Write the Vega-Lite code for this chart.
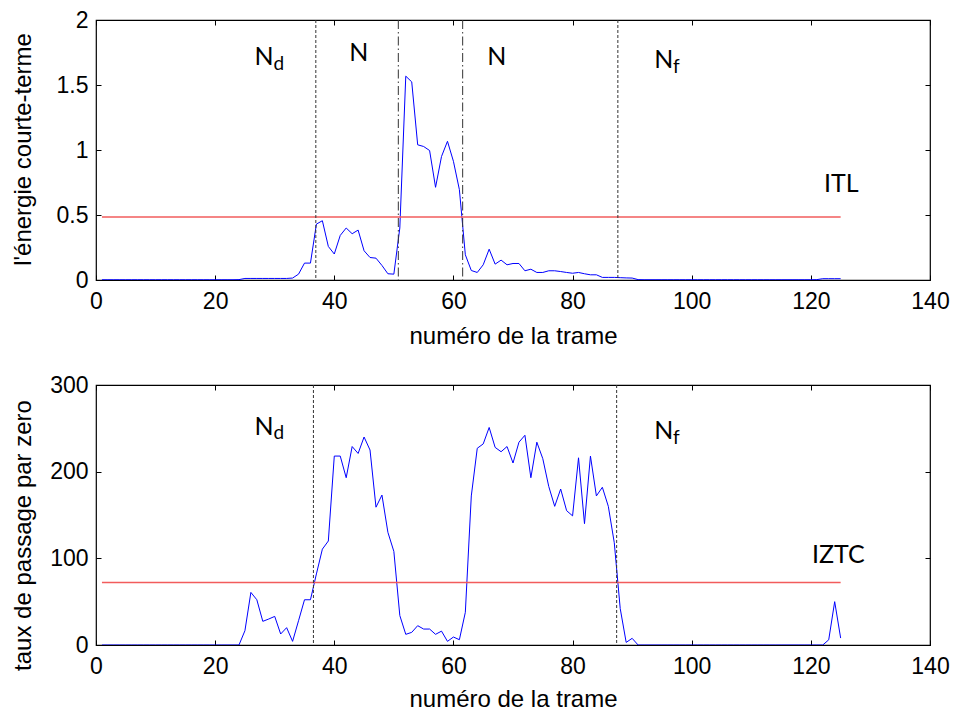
{
  "$schema": "https://vega.github.io/schema/vega-lite/v6.json",
  "padding": {"left": 10, "top": 8, "right": 5, "bottom": 0},
  "spacing": 24,
  "datasets": {
    "energy": [
      {"frame":1,"value":0.002},{"frame":2,"value":0.002},{"frame":3,"value":0.002},{"frame":4,"value":0.002},{"frame":5,"value":0.002},
      {"frame":6,"value":0.002},{"frame":7,"value":0.002},{"frame":8,"value":0.002},{"frame":9,"value":0.002},{"frame":10,"value":0.002},
      {"frame":11,"value":0.002},{"frame":12,"value":0.002},{"frame":13,"value":0.002},{"frame":14,"value":0.002},{"frame":15,"value":0.002},
      {"frame":16,"value":0.002},{"frame":17,"value":0.002},{"frame":18,"value":0.002},{"frame":19,"value":0.002},{"frame":20,"value":0.002},
      {"frame":21,"value":0.002},{"frame":22,"value":0.002},{"frame":23,"value":0.002},{"frame":24,"value":0.003},{"frame":25,"value":0.012},
      {"frame":26,"value":0.012},{"frame":27,"value":0.012},{"frame":28,"value":0.012},{"frame":29,"value":0.012},{"frame":30,"value":0.012},
      {"frame":31,"value":0.012},{"frame":32,"value":0.012},{"frame":33,"value":0.015},{"frame":34,"value":0.045},{"frame":35,"value":0.13},
      {"frame":36,"value":0.13},{"frame":37,"value":0.43},{"frame":38,"value":0.456},{"frame":39,"value":0.258},{"frame":40,"value":0.2},
      {"frame":41,"value":0.343},{"frame":42,"value":0.4},{"frame":43,"value":0.356},{"frame":44,"value":0.384},{"frame":45,"value":0.225},
      {"frame":46,"value":0.173},{"frame":47,"value":0.168},{"frame":48,"value":0.112},{"frame":49,"value":0.048},{"frame":50,"value":0.045},
      {"frame":51,"value":0.4},{"frame":52,"value":1.568},{"frame":53,"value":1.524},{"frame":54,"value":1.04},{"frame":55,"value":1.027},
      {"frame":56,"value":0.996},{"frame":57,"value":0.713},{"frame":58,"value":0.95},{"frame":59,"value":1.067},{"frame":60,"value":0.913},
      {"frame":61,"value":0.695},{"frame":62,"value":0.194},{"frame":63,"value":0.073},{"frame":64,"value":0.058},{"frame":65,"value":0.117},
      {"frame":66,"value":0.237},{"frame":67,"value":0.122},{"frame":68,"value":0.153},{"frame":69,"value":0.117},{"frame":70,"value":0.127},
      {"frame":71,"value":0.127},{"frame":72,"value":0.071},{"frame":73,"value":0.083},{"frame":74,"value":0.058},{"frame":75,"value":0.058},
      {"frame":76,"value":0.071},{"frame":77,"value":0.071},{"frame":78,"value":0.065},{"frame":79,"value":0.058},{"frame":80,"value":0.052},
      {"frame":81,"value":0.058},{"frame":82,"value":0.048},{"frame":83,"value":0.04},{"frame":84,"value":0.04},{"frame":85,"value":0.02},
      {"frame":86,"value":0.02},{"frame":87,"value":0.02},{"frame":88,"value":0.018},{"frame":89,"value":0.016},{"frame":90,"value":0.015},
      {"frame":91,"value":0.003},{"frame":92,"value":0.002},{"frame":93,"value":0.002},{"frame":94,"value":0.002},{"frame":95,"value":0.002},
      {"frame":96,"value":0.002},{"frame":97,"value":0.002},{"frame":98,"value":0.002},{"frame":99,"value":0.002},{"frame":100,"value":0.002},
      {"frame":101,"value":0.002},{"frame":102,"value":0.002},{"frame":103,"value":0.002},{"frame":104,"value":0.002},{"frame":105,"value":0.002},
      {"frame":106,"value":0.002},{"frame":107,"value":0.002},{"frame":108,"value":0.002},{"frame":109,"value":0.002},{"frame":110,"value":0.002},
      {"frame":111,"value":0.002},{"frame":112,"value":0.002},{"frame":113,"value":0.002},{"frame":114,"value":0.002},{"frame":115,"value":0.002},
      {"frame":116,"value":0.002},{"frame":117,"value":0.002},{"frame":118,"value":0.002},{"frame":119,"value":0.002},{"frame":120,"value":0.002},
      {"frame":121,"value":0.003},{"frame":122,"value":0.01},{"frame":123,"value":0.01},{"frame":124,"value":0.01},{"frame":125,"value":0.01}
    ],
    "zcr": [
      {"frame":1,"value":0},{"frame":2,"value":0},{"frame":3,"value":0},{"frame":4,"value":0},{"frame":5,"value":0},
      {"frame":6,"value":0},{"frame":7,"value":0},{"frame":8,"value":0},{"frame":9,"value":0},{"frame":10,"value":0},
      {"frame":11,"value":0},{"frame":12,"value":0},{"frame":13,"value":0},{"frame":14,"value":0},{"frame":15,"value":0},
      {"frame":16,"value":0},{"frame":17,"value":0},{"frame":18,"value":0},{"frame":19,"value":0},{"frame":20,"value":0},
      {"frame":21,"value":0},{"frame":22,"value":0},{"frame":23,"value":0},{"frame":24,"value":0},{"frame":25,"value":16.5},
      {"frame":26,"value":60.7},{"frame":27,"value":52.2},{"frame":28,"value":27.3},{"frame":29,"value":30},{"frame":30,"value":33},
      {"frame":31,"value":12.7},{"frame":32,"value":20},{"frame":33,"value":4.2},{"frame":34,"value":28},{"frame":35,"value":52.2},
      {"frame":36,"value":52.2},{"frame":37,"value":82},{"frame":38,"value":110.6},{"frame":39,"value":120},{"frame":40,"value":218},
      {"frame":41,"value":218},{"frame":42,"value":193},{"frame":43,"value":229},{"frame":44,"value":221},{"frame":45,"value":240},
      {"frame":46,"value":225},{"frame":47,"value":159},{"frame":48,"value":173},{"frame":49,"value":130},{"frame":50,"value":108},
      {"frame":51,"value":34},{"frame":52,"value":12.3},{"frame":53,"value":14.6},{"frame":54,"value":22.3},{"frame":55,"value":18.4},
      {"frame":56,"value":18.4},{"frame":57,"value":12.3},{"frame":58,"value":16},{"frame":59,"value":4.2},{"frame":60,"value":9.2},
      {"frame":61,"value":6.1},{"frame":62,"value":37.7},{"frame":63,"value":172},{"frame":64,"value":227},{"frame":65,"value":232},
      {"frame":66,"value":251},{"frame":67,"value":228},{"frame":68,"value":223},{"frame":69,"value":229},{"frame":70,"value":210},
      {"frame":71,"value":234},{"frame":72,"value":242},{"frame":73,"value":193},{"frame":74,"value":234},{"frame":75,"value":215},
      {"frame":76,"value":183},{"frame":77,"value":160},{"frame":78,"value":180},{"frame":79,"value":155},{"frame":80,"value":149},
      {"frame":81,"value":216},{"frame":82,"value":140},{"frame":83,"value":218},{"frame":84,"value":172},{"frame":85,"value":182},
      {"frame":86,"value":160},{"frame":87,"value":118},{"frame":88,"value":42},{"frame":89,"value":3},{"frame":90,"value":7.7},
      {"frame":91,"value":0},{"frame":92,"value":0},{"frame":93,"value":0},{"frame":94,"value":0},{"frame":95,"value":0},
      {"frame":96,"value":0},{"frame":97,"value":0},{"frame":98,"value":0},{"frame":99,"value":0},{"frame":100,"value":0},
      {"frame":101,"value":0},{"frame":102,"value":0},{"frame":103,"value":0},{"frame":104,"value":0},{"frame":105,"value":0},
      {"frame":106,"value":0},{"frame":107,"value":0},{"frame":108,"value":0},{"frame":109,"value":0},{"frame":110,"value":0},
      {"frame":111,"value":0},{"frame":112,"value":0},{"frame":113,"value":0},{"frame":114,"value":0},{"frame":115,"value":0},
      {"frame":116,"value":0},{"frame":117,"value":0},{"frame":118,"value":0},{"frame":119,"value":0},{"frame":120,"value":0},
      {"frame":121,"value":0},{"frame":122,"value":0},{"frame":123,"value":6},{"frame":124,"value":50},{"frame":125,"value":8}
    ]
  },
  "vconcat": [
    {
      "width": 834,
      "height": 260,
      "resolve": {"axis": {"x": "independent", "y": "independent"}},
      "layer": [
        {
          "data": {"name": "energy"},
          "mark": {"type": "line", "color": "#0000ff", "strokeWidth": 1, "clip": true},
          "encoding": {
            "x": {"field": "frame", "type": "quantitative", "scale": {"domain": [0, 140], "nice": false}, "title": "numéro de la trame",
                  "axis": {"values": [0,20,40,60,80,100,120,140], "labelPadding": 15, "titleY": 56, "titleBaseline": "middle"}},
            "y": {"field": "value", "type": "quantitative", "scale": {"domain": [0, 2], "nice": false}, "title": "l'énergie courte-terme",
                  "axis": {"values": [0,0.5,1,1.5,2], "labelPadding": 13, "titleX": -73, "titleY": 129, "titleAlign": "center", "titleBaseline": "middle", "titleAngle": -90}}
          }
        },
        {
          "data": {"values": [{"frame": 1, "frame2": 125, "value": 0.484}]},
          "mark": {"type": "rule", "color": "#f25c5c", "strokeWidth": 1.5},
          "encoding": {
            "x": {"field": "frame", "type": "quantitative", "axis": null},
            "x2": {"field": "frame2"},
            "y": {"field": "value", "type": "quantitative", "axis": {"orient": "right", "labels": false, "title": null, "values": [0,0.5,1,1.5,2]}}
          }
        },
        {
          "data": {"values": [{"frame": 36.9}, {"frame": 87.6}]},
          "mark": {"type": "rule", "color": "#333333", "strokeWidth": 1, "strokeDash": [3, 2]},
          "encoding": {
            "x": {"field": "frame", "type": "quantitative", "axis": {"orient": "top", "labels": false, "title": null, "values": [0,20,40,60,80,100,120,140]}}
          }
        },
        {
          "data": {"values": [{"frame": 50.75}, {"frame": 61.55}]},
          "mark": {"type": "rule", "color": "#333333", "strokeWidth": 1, "strokeDash": [9, 3, 1.5, 3]},
          "encoding": {
            "x": {"field": "frame", "type": "quantitative", "axis": null}
          }
        },
        {
          "data": {"values": [
            {"frame": 28.2, "value": 1.715, "label": "N"},
            {"frame": 44.1, "value": 1.746, "label": "N"},
            {"frame": 67.3, "value": 1.713, "label": "N"},
            {"frame": 95.3, "value": 1.69, "label": "N"},
            {"frame": 125.1, "value": 0.737, "label": "ITL"}
          ]},
          "mark": {"type": "text", "font": "Lato", "fontSize": 25, "align": "center", "baseline": "middle", "color": "black"},
          "encoding": {
            "x": {"field": "frame", "type": "quantitative", "axis": null},
            "y": {"field": "value", "type": "quantitative", "axis": null},
            "text": {"field": "label"}
          }
        },
        {
          "data": {"values": [
            {"frame": 30.7, "value": 1.665, "label": "d"},
            {"frame": 97.4, "value": 1.64, "label": "f"}
          ]},
          "mark": {"type": "text", "font": "Lato", "fontSize": 19, "align": "center", "baseline": "middle", "color": "black"},
          "encoding": {
            "x": {"field": "frame", "type": "quantitative", "axis": null},
            "y": {"field": "value", "type": "quantitative", "axis": null},
            "text": {"field": "label"}
          }
        }
      ]
    },
    {
      "width": 834,
      "height": 260,
      "resolve": {"axis": {"x": "independent", "y": "independent"}},
      "layer": [
        {
          "data": {"name": "zcr"},
          "mark": {"type": "line", "color": "#0000ff", "strokeWidth": 1, "clip": true},
          "encoding": {
            "x": {"field": "frame", "type": "quantitative", "scale": {"domain": [0, 140], "nice": false}, "title": "numéro de la trame",
                  "axis": {"values": [0,20,40,60,80,100,120,140], "labelPadding": 15, "titleY": 54, "titleBaseline": "middle"}},
            "y": {"field": "value", "type": "quantitative", "scale": {"domain": [0, 300], "nice": false}, "title": "taux de passage par zero",
                  "axis": {"values": [0,100,200,300], "labelPadding": 13, "titleX": -73, "titleY": 150, "titleAlign": "center", "titleBaseline": "middle", "titleAngle": -90}}
          }
        },
        {
          "data": {"values": [{"frame": 1, "frame2": 125, "value": 72}]},
          "mark": {"type": "rule", "color": "#f25c5c", "strokeWidth": 1.5},
          "encoding": {
            "x": {"field": "frame", "type": "quantitative", "axis": null},
            "x2": {"field": "frame2"},
            "y": {"field": "value", "type": "quantitative", "axis": {"orient": "right", "labels": false, "title": null, "values": [0,100,200,300]}}
          }
        },
        {
          "data": {"values": [{"frame": 36.5}, {"frame": 87.4}]},
          "mark": {"type": "rule", "color": "#333333", "strokeWidth": 1, "strokeDash": [3, 2]},
          "encoding": {
            "x": {"field": "frame", "type": "quantitative", "axis": {"orient": "top", "labels": false, "title": null, "values": [0,20,40,60,80,100,120,140]}}
          }
        },
        {
          "data": {"values": [
            {"frame": 28.2, "value": 252, "label": "N"},
            {"frame": 95.3, "value": 246.6, "label": "N"},
            {"frame": 124.6, "value": 103.7, "label": "IZTC"}
          ]},
          "mark": {"type": "text", "font": "Lato", "fontSize": 25, "align": "center", "baseline": "middle", "color": "black"},
          "encoding": {
            "x": {"field": "frame", "type": "quantitative", "axis": null},
            "y": {"field": "value", "type": "quantitative", "axis": null},
            "text": {"field": "label"}
          }
        },
        {
          "data": {"values": [
            {"frame": 30.7, "value": 245, "label": "d"},
            {"frame": 97.4, "value": 239, "label": "f"}
          ]},
          "mark": {"type": "text", "font": "Lato", "fontSize": 19, "align": "center", "baseline": "middle", "color": "black"},
          "encoding": {
            "x": {"field": "frame", "type": "quantitative", "axis": null},
            "y": {"field": "value", "type": "quantitative", "axis": null},
            "text": {"field": "label"}
          }
        }
      ]
    }
  ],
  "config": {
    "view": {"stroke": "black", "strokeWidth": 1.2},
    "axis": {
      "domain": false,
      "grid": false,
      "ticks": true,
      "tickColor": "black",
      "tickSize": -5,
      "tickWidth": 1,
      "labelFlush": false,
      "labelOverlap": false,
      "labelExpr": "'' + datum.value",
      "labelFont": "Liberation Sans",
      "labelFontSize": 23,
      "labelColor": "black",
      "titleFont": "Liberation Sans",
      "titleFontSize": 24,
      "titleFontWeight": "normal",
      "titleColor": "black"
    }
  }
}
